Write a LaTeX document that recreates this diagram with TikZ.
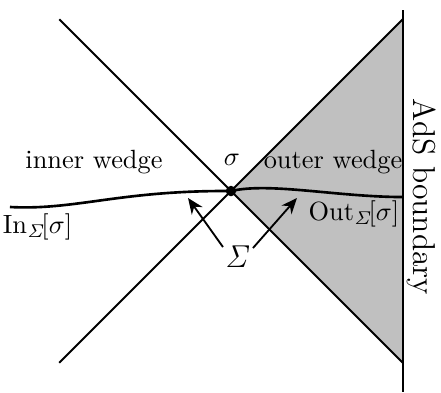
\documentclass[tikz,border=0pt]{standalone}
\usepackage{tikz}
\usepackage{xcolor}
\usetikzlibrary{arrows.meta}
\definecolor{wedgeGray}{HTML}{C0C0C0}

\begin{document}
\begin{tikzpicture}[x=1cm,y=1cm]
  \useasboundingbox (0,0) rectangle (5.88,5.227);
  \fill[wedgeGray] (3.08,2.68) -- (5.373,4.973) -- (5.373,0.387) -- cycle;
  \coordinate (sig) at (3.08,2.68);
  \coordinate (tl) at (0.79,4.97);
  \coordinate (bl) at (0.79,0.39);
  \coordinate (tr) at (5.373,4.973);
  \coordinate (br) at (5.373,0.387);
  \coordinate (btop) at (5.373,5.093);
  \coordinate (bbot) at (5.373,0);
  \draw[line width=0.7pt] (tl) -- (br);
  \draw[line width=0.7pt] (bl) -- (tr);
  \draw[line width=0.9pt] (btop) -- (bbot);
  \draw[line width=1pt] (0.133,2.467) .. controls (1.0,2.42) and (1.6,2.69) .. (sig)
    .. controls (3.6,2.8) and (4.5,2.6) .. (5.373,2.6);
  \fill (sig) circle (0.07);
  \node (iw) at (1.253,3.067) {inner wedge};
  \node (sg) at (3.093,3.1) {$\sigma$};
  \node (ow) at (4.44,3.067) {outer wedge};
  \node (out) at (4.72,2.38) {$\mathrm{Out}_{\mathit{\Sigma}}\![\sigma]$};
  \node (in) at (0.5,2.2) {$\mathrm{In}_{\mathit{\Sigma}}\![\sigma]$};
  \node[font=\large] (S) at (3.173,1.8) {$\mathit{\Sigma}$};
  \node[rotate=-90,font=\large] (ads) at (5.627,2.6) {AdS boundary};
  \coordinate (inTip) at (2.507,2.587);
  \coordinate (outTip) at (3.96,2.587);
  \draw[line width=0.7pt,-{Stealth[length=6pt,width=5pt]}] (2.973,1.933) -- (inTip);
  \draw[line width=0.7pt,-{Stealth[length=6pt,width=5pt]}] (3.373,1.92) -- (outTip);
\end{tikzpicture}
\end{document}
